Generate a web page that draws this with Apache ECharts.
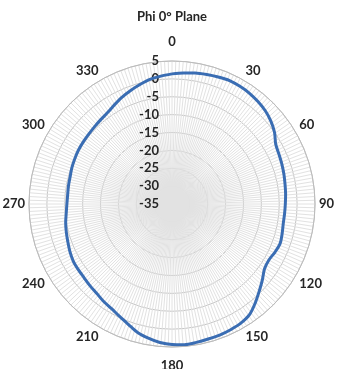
<!DOCTYPE html>
<html>
<head>
<meta charset="utf-8">
<script src="https://cdn.jsdelivr.net/npm/echarts@6/dist/echarts.min.js"></script>
<style>
  html, body { margin: 0; padding: 0; background: #ffffff; }
  #chart { width: 344px; height: 369px; }
</style>
</head>
<body>
<div id="chart"></div>
<script>
// Azimuth angles (degrees) of the measured pattern
const angles = [
  0, 5, 10, 15, 20, 25, 30, 35, 40, 45, 50, 55,
  60, 65, 70, 75, 80, 85, 90, 95, 100, 105, 110, 115,
  120, 125, 130, 135, 140, 145, 150, 155, 160, 165, 170, 175,
  180, 185, 190, 195, 200, 205, 210, 215, 220, 225, 230, 235,
  240, 245, 250, 255, 260, 265, 270, 275, 280, 285, 290, 295,
  300, 305, 310, 315, 320, 325, 330, 335, 340, 345, 350, 355
];
// Gain (dB) at each azimuth
const gain = [
  1.4, 1.8, 2.2, 2.5, 2.8, 3.1, 3.0, 2.8, 2.4, 1.9, 1.1, 0.0,
  -1.5, -2.0, -2.3, -2.6, -2.9, -3.1, -3.3, -3.4, -3.4, -3.1, -2.8, -3.2,
  -3.7, -3.4, -2.0, -0.5, 1.2, 2.8, 3.5, 3.8, 4.0, 4.1, 4.3, 4.5,
  4.3, 3.9, 3.1, 2.2, 0.8, -0.3, -1.2, -1.7, -2.3, -2.6, -2.9, -3.0,
  -3.1, -3.5, -4.0, -4.4, -4.8, -5.3, -5.6, -5.7, -5.6, -5.5, -5.2, -5.0,
  -4.8, -4.7, -4.6, -4.4, -4.1, -3.7, -2.9, -2.0, -1.2, -0.4, 0.4, 0.9
];
// Radial scale (dB) and angular label step
const radialTicks = [-35, -30, -25, -20, -15, -10, -5, 0, 5];
const angleLabelStep = 30;
const chartTitle = 'Phi 0° Plane';

const labelFont = { fontFamily: 'Lato', fontWeight: 'bold', fontSize: 13, color: '#262626' };

const points = angles.map((a, i) => [gain[i], a]);
points.push([gain[0], 360]);

const chart = echarts.init(document.getElementById('chart'), null, { renderer: 'canvas' });
chart.setOption({
  animation: false,
  backgroundColor: '#ffffff',
  title: {
    text: chartTitle,
    left: 'center',
    top: 5,
    textStyle: { fontFamily: 'Lato', fontWeight: 'bold', fontSize: 13, color: '#262626' }
  },
  polar: { center: [172, 204], radius: 143 },
  angleAxis: {
    type: 'value',
    min: 0,
    max: 360,
    interval: angleLabelStep,
    startAngle: 90,
    clockwise: true,
    axisLine: { show: true, lineStyle: { color: '#bcbcbc', width: 1 } },
    axisTick: { show: false },
    minorTick: { show: false, splitNumber: 20 },
    splitLine: { show: true, lineStyle: { color: '#e2e2e2', width: 1 } },
    minorSplitLine: { show: true, lineStyle: { color: '#e2e2e2', width: 1 } },
    axisLabel: {
      margin: 4,
      formatter: v => {
        if (v >= 360) return '';
        return (v === 0 || v === 180) ? '{t|' + v + '}' : '{n|' + v + '}';
      },
      rich: {
        t: Object.assign({ lineHeight: 30 }, labelFont),
        n: Object.assign({ lineHeight: 12 }, labelFont)
      }
    }
  },
  radiusAxis: {
    type: 'value',
    min: radialTicks[0],
    max: radialTicks[radialTicks.length - 1],
    interval: 5,
    axisLine: { show: false },
    axisTick: { show: false },
    splitLine: { show: true, lineStyle: { color: '#c4c4c4', width: 1 } },
    axisLabel: Object.assign({ margin: 13 }, labelFont)
  },
  series: [{
    type: 'line',
    coordinateSystem: 'polar',
    data: points,
    smooth: 0.3,
    symbol: 'none',
    lineStyle: { color: '#3a6db3', width: 3 },
    z: 5
  }]
});
</script>
</body>
</html>
